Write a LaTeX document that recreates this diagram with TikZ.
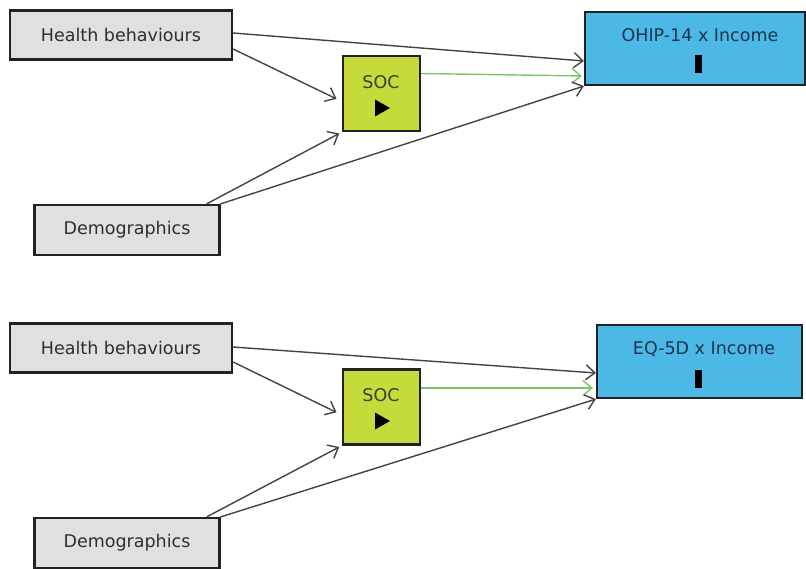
\documentclass[tikz,border=0pt]{standalone}
\usepackage{fontspec}
\setmainfont{DejaVu Sans}
\usetikzlibrary{arrows.meta,calc}

\definecolor{boxgray}{HTML}{E0E0E0}
\definecolor{socfill}{HTML}{C6DA3C}
\definecolor{outfill}{HTML}{4BB8E6}
\definecolor{greenline}{HTML}{7CC46C}
\definecolor{edgeline}{HTML}{222222}
\definecolor{graytext}{HTML}{2E2E2E}
\definecolor{navytext}{HTML}{1B3550}

\tikzset{
  x=1pt, y=-1pt,
  base/.style={draw=edgeline, line width=2.2pt, inner sep=0pt, rectangle},
  factor/.style={base, fill=boxgray, minimum height=49pt,
    font=\fontsize{17.5}{20}\selectfont, text=graytext},
  mediator/.style={base, fill=socfill, minimum width=77pt, minimum height=75pt},
  outcome/.style={base, fill=outfill, minimum height=73pt},
  label/.style={inner sep=0pt, font=\fontsize{17.5}{20}\selectfont},
  marker/.style={fill=black, inner sep=0pt, minimum width=7pt, minimum height=18pt},
  path/.style={draw=edgeline!85, line width=1.4pt,
    -{Straight Barb[length=9pt,width=15pt,line width=1.4pt]}},
  greenpath/.style={path, draw=greenline, -{Straight Barb[length=9pt,width=15pt,line width=1.4pt,color=greenline]}}
}

\begin{document}
\begin{tikzpicture}
\useasboundingbox (0,0) rectangle (806,569);

% ---------- upper model: OHIP-14 ----------
\node[factor, minimum width=222pt] (hb1) at (121,35) {Health behaviours};
\node[factor, minimum width=185pt, minimum height=50pt] (dem1) at (127,230) {Demographics};
\node[mediator] (soc1) at (381.5,93.5) {};
\node[label, text=graytext!80!olive] (soct1) at (381,82) {SOC};
\coordinate (tri1) at (382,108);
\fill (tri1) ++(-7,-8.5) -- ++(15,8.5) -- ++(-15,8.5) -- cycle;
\node[outcome, minimum width=220pt] (ohip) at (695,48.5) {};
\node[label, text=navytext] (ohipt) at (700,35) {OHIP-14 x Income};
\node[marker] (bar1) at (698,64) {};

\draw[path] ([yshift=2pt]hb1.east) -- ([yshift=-12.5pt]ohip.west);
\draw[path, shorten >=6pt] ([yshift=-14pt]hb1.east) -- ([yshift=-8pt]soc1.west);
\draw[greenpath, shorten >=2pt] ([yshift=20pt]soc1.east) -- ([yshift=-27.5pt]ohip.west);
\draw[path, shorten >=3pt] ([xshift=-14pt]dem1.north east) -- (soc1.south west);
\draw[path] (dem1.north east) -- (ohip.south west);

% ---------- lower model: EQ-5D ----------
\node[factor, minimum width=222pt] (hb2) at (121,348) {Health behaviours};
\node[factor, minimum width=185pt, minimum height=50pt] (dem2) at (127,543) {Demographics};
\node[mediator] (soc2) at (381.5,407) {};
\node[label, text=graytext!80!olive] (soct2) at (381,395) {SOC};
\coordinate (tri2) at (382,421);
\fill (tri2) ++(-7,-8.5) -- ++(15,8.5) -- ++(-15,8.5) -- cycle;
\node[outcome, minimum width=205pt] (eq) at (699.5,361.5) {};
\node[label, text=navytext] (eqt) at (704,349) {EQ-5D x Income};
\node[marker] (bar2) at (698,379) {};

\draw[path] ([yshift=1pt]hb2.east) -- ([yshift=-11.5pt]eq.west);
\draw[path, shorten >=6pt] ([yshift=-14pt]hb2.east) -- ([yshift=-8pt]soc2.west);
\draw[greenpath, shorten >=3pt] ([yshift=19pt]soc2.east) -- ([yshift=-26.5pt]eq.west);
\draw[path, shorten >=3pt] ([xshift=-14pt]dem2.north east) -- (soc2.south west);
\draw[path] (dem2.north east) -- (eq.south west);
\end{tikzpicture}
\end{document}
